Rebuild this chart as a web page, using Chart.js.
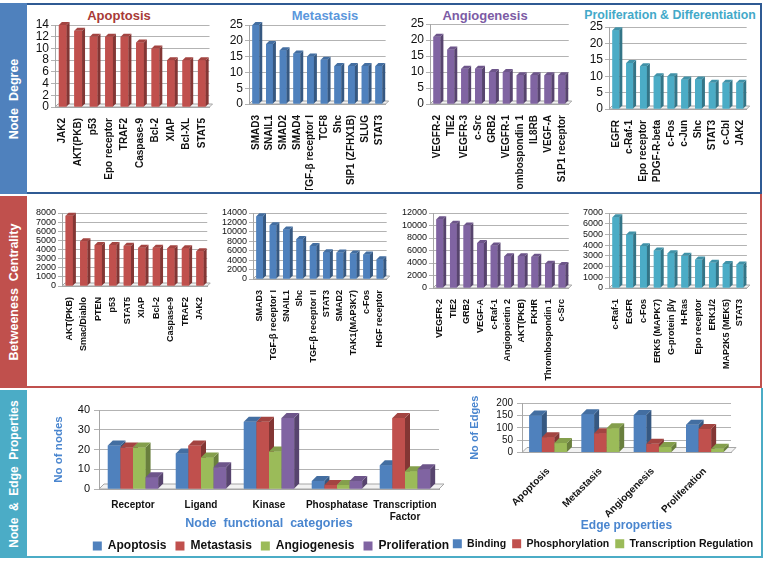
<!DOCTYPE html>
<html>
<head>
<meta charset="utf-8">
<script src="https://cdn.jsdelivr.net/npm/chart.js@4.4.0/dist/chart.umd.min.js"></script>
<style>
body { margin:0; width:766px; height:561px; background:#fff; position:relative; overflow:hidden; font-family:"Liberation Sans", Arial, sans-serif; }
.band { position:absolute; left:0; width:27px; }
.band span { position:absolute; left:50%; top:50%; transform:translate(-50%,-50%) rotate(-90deg); white-space:pre; color:#fff; font-weight:bold; font-size:12.5px; }
.frame { position:absolute; box-sizing:border-box; border:2px solid; border-left:none; }
.ttl { position:absolute; transform:translate(-50%,-50%); white-space:nowrap; font-weight:bold; font-size:13px; }
canvas { position:absolute; }
</style>
</head>
<body>
<div class="frame" style="left:27px;top:3px;width:735px;height:191px;border-color:#2f5a93"></div>
<div class="band" style="top:3px;height:191px;background:#4f81bd"><span>Node  Degree</span></div>
<div class="frame" style="left:27px;top:194px;width:735px;height:194px;border-color:#c0504d;border-top:none"></div>
<div class="band" style="top:196px;height:192px;background:#c0504d"><span>Betweeness  Centrality</span></div>
<div class="frame" style="left:27px;top:388px;width:736px;height:170px;border-color:#4bacc6;border-top:none"></div>
<div class="band" style="top:390px;height:168px;background:#4bacc6"><span style="font-size:12px">Node  &amp;  Edge  Properties</span></div>

<div class="ttl" style="left:119px;top:15px;color:#a83a37">Apoptosis</div>
<div class="ttl" style="left:325px;top:15px;color:#5b97dc">Metastasis</div>
<div class="ttl" style="left:485px;top:15px;color:#7c5ba5">Angiogenesis</div>
<div class="ttl" style="left:670px;top:15px;color:#43a9c9;font-size:12.3px">Proliferation &amp; Differentiation</div>

<script>
// node degree (top row)
const degApopLabels = ["JAK2", "AKT(PKB)", "p53", "Epo receptor", "TRAF2", "Caspase-9", "Bcl-2", "XIAP", "Bcl-XL", "STAT5"];
const degApopValues = [14, 13, 12, 12, 12, 11, 10, 8, 8, 8];
const degMetaLabels = ["SMAD3", "SNAIL1", "SMAD2", "SMAD4", "TGF-β receptor I", "TCF8", "Shc", "SIP1 (ZFHX1B)", "SLUG", "STAT3"];
const degMetaValues = [25, 19, 17, 16, 15, 14, 12, 12, 12, 12];
const degAngioLabels = ["VEGFR-2", "TIE2", "VEGFR-3", "c-Src", "GRB2", "VEGFR-1", "Thrombospondin 1", "IL8RB", "VEGF-A", "S1P1 receptor"];
const degAngioValues = [21, 17, 11, 11, 10, 10, 9, 9, 9, 9];
const degProlLabels = ["EGFR", "c-Raf-1", "Epo receptor", "PDGF-R-beta", "c-Fos", "c-Jun", "Shc", "STAT3", "c-Cbl", "JAK2"];
const degProlValues = [24, 14, 13, 10, 10, 9, 9, 8, 8, 8];

// betweeness centrality (middle row)
const btwApopLabels = ["AKT(PKB)", "Smac/Diablo", "PTEN", "p53", "STAT5", "XIAP", "Bcl-2", "Caspase-9", "TRAF2", "JAK2"];
const btwApopValues = [7700, 4900, 4500, 4500, 4400, 4200, 4200, 4150, 4150, 3800];
const btwMetaLabels = ["SMAD3", "TGF-β receptor I", "SNAIL1", "Shc", "TGF-β receptor II", "STAT3", "SMAD2", "TAK1(MAP3K7)", "c-Fos", "HGF receptor"];
const btwMetaValues = [13300, 11400, 10500, 8500, 7000, 5700, 5600, 5400, 5200, 4200];
const btwAngioLabels = ["VEGFR-2", "TIE2", "GRB2", "VEGF-A", "c-Raf-1", "Angiopoietin 2", "AKT(PKB)", "FKHR", "Thrombospondin 1", "c-Src"];
const btwAngioValues = [11000, 10300, 10000, 7200, 6800, 5100, 5100, 5000, 3900, 3700];
const btwProlLabels = ["c-Raf-1", "EGFR", "c-Fos", "ERK5 (MAPK7)", "G-protein β/γ", "H-Ras", "Epo receptor", "ERK1/2", "MAP2K5 (MEK5)", "STAT3"];
const btwProlValues = [6600, 5000, 3900, 3500, 3250, 3000, 2650, 2350, 2250, 2200];

// node functional categories (bottom left)
const nodeCategories = ["Receptor", "Ligand", "Kinase", "Phosphatase", ["Transcription", "Factor"]];
const nodeSeries = ["Apoptosis", "Metastasis", "Angiogenesis", "Proliferation"];
const nodeApop = [22, 18, 34, 4, 12];
const nodeMeta = [21, 22, 34, 2, 36];
const nodeAngio = [21, 16, 19, 2, 9];
const nodeProl = [6, 11, 36, 4, 10];

// edge properties (bottom right)
const edgeCategories = ["Apoptosis", "Metastasis", "Angiogenesis", "Proliferation"];
const edgeSeries = ["Binding", "Phosphorylation", "Transcription Regulation"];
const edgeBinding = [150, 155, 152, 112];
const edgePhospho = [62, 78, 35, 95];
const edgeTranscr = [38, 98, 22, 15];

const RED = '#c0504d', BLUE = '#4f81bd', PURPLE = '#8064a2', TEAL = '#4bacc6', GREEN = '#9bbb59';
const AXIS_BLUE = '#4a86cf';

function shade(hex, f) {
    const n = parseInt(hex.slice(1), 16);
    const r = Math.round(((n >> 16) & 255) * f), g = Math.round(((n >> 8) & 255) * f), b = Math.round((n & 255) * f);
    return `rgb(${r},${g},${b})`;
}

// pseudo 3D: floor under the bars, then every bar redrawn left to right with side and top faces
const bar3d = {
    id: 'bar3d',
    beforeDatasetsDraw(chart, args, opts) {
        const a = chart.chartArea, d = opts.depth, c = chart.ctx;
        c.save();
        c.fillStyle = '#f2f2f2';
        c.strokeStyle = '#a6a6a6';
        c.lineWidth = 1;
        c.beginPath();
        c.moveTo(a.left, a.bottom);
        c.lineTo(a.left + d, a.bottom - d);
        c.lineTo(a.right + d, a.bottom - d);
        c.lineTo(a.right, a.bottom);
        c.closePath();
        c.fill();
        c.stroke();
        c.restore();
    },
    afterDatasetsDraw(chart, args, opts) {
        const d = opts.depth, c = chart.ctx;
        const n = chart.data.labels.length;
        c.save();
        for (let i = 0; i < n; i++) {
            chart.data.datasets.forEach((ds, k) => {
                const el = chart.getDatasetMeta(k).data[i];
                const p = el.getProps(['x', 'y', 'base', 'width'], true);
                const l = p.x - p.width / 2, r = p.x + p.width / 2;
                const col = ds.backgroundColor;
                c.fillStyle = col;
                c.fillRect(l, p.y, p.width, p.base - p.y);
                c.fillStyle = shade(col, 0.68);
                c.beginPath();
                c.moveTo(r, p.y); c.lineTo(r + d, p.y - d); c.lineTo(r + d, p.base - d); c.lineTo(r, p.base);
                c.closePath(); c.fill();
                c.fillStyle = shade(col, 0.85);
                c.beginPath();
                c.moveTo(l, p.y); c.lineTo(l + d, p.y - d); c.lineTo(r + d, p.y - d); c.lineTo(r, p.y);
                c.closePath(); c.fill();
            });
        }
        c.restore();
    }
};

function addCanvas(x, y, w, h) {
    const cv = document.createElement('canvas');
    cv.width = w; cv.height = h;
    cv.style.left = x + 'px'; cv.style.top = y + 'px';
    document.body.appendChild(cv);
    return cv;
}

const plain = v => String(v);

// ranked single series panel (top and middle rows)
function rankChart(box, labels, values, color, o) {
    const cv = addCanvas(box[0], box[1], box[2], box[3]);
    return new Chart(cv, {
        type: 'bar',
        data: { labels: labels, datasets: [{ data: values, backgroundColor: color, borderWidth: 0, barPercentage: 0.5, categoryPercentage: 1 }] },
        options: {
            responsive: false,
            animation: false,
            layout: { padding: { top: o.padTop, right: 4, bottom: 0, left: 0 } },
            plugins: { legend: { display: false }, tooltip: { enabled: false }, bar3d: { depth: 3 } },
            scales: {
                x: {
                    grid: { display: false },
                    border: { color: '#a6a6a6' },
                    ticks: { minRotation: 90, maxRotation: 90, autoSkip: false, color: '#111', padding: 3, font: { size: o.labelSize, weight: 'bold' } },
                    afterFit: s => { s.height = o.xH; }
                },
                y: {
                    min: 0, max: o.max,
                    ticks: { stepSize: o.step, autoSkip: false, callback: plain, color: '#111', padding: 2, font: { size: o.tickSize } },
                    grid: { color: '#b3b3b3', tickLength: 4 },
                    border: { color: '#a6a6a6' },
                    afterFit: s => { s.width = o.yW; }
                }
            }
        },
        plugins: [bar3d]
    });
}

rankChart([28, 5, 189, 185], degApopLabels, degApopValues, RED, { padTop: 20, xH: 83, yW: 27, max: 14, step: 2, tickSize: 12, labelSize: 10 });
rankChart([212, 5, 182, 185], degMetaLabels, degMetaValues, BLUE, { padTop: 20, xH: 86, yW: 37, max: 25, step: 5, tickSize: 12, labelSize: 10 });
rankChart([394, 5, 183, 185], degAngioLabels, degAngioValues, PURPLE, { padTop: 19, xH: 86, yW: 36, max: 25, step: 5, tickSize: 12, labelSize: 10 });
rankChart([577, 5, 178, 185], degProlLabels, degProlValues, TEAL, { padTop: 22, xH: 81, yW: 32, max: 25, step: 5, tickSize: 12, labelSize: 10 });

rankChart([28, 197, 186, 190], btwApopLabels, btwApopValues, RED, { padTop: 16, xH: 101, yW: 34, max: 8000, step: 1000, tickSize: 9, labelSize: 9 });
rankChart([214, 197, 180, 190], btwMetaLabels, btwMetaValues, BLUE, { padTop: 16, xH: 108, yW: 39, max: 14000, step: 2000, tickSize: 9, labelSize: 9 });
rankChart([394, 197, 182, 190], btwAngioLabels, btwAngioValues, PURPLE, { padTop: 16, xH: 99, yW: 39, max: 12000, step: 2000, tickSize: 9, labelSize: 9 });
rankChart([576, 197, 178, 190], btwProlLabels, btwProlValues, TEAL, { padTop: 16, xH: 99, yW: 33, max: 7000, step: 1000, tickSize: 9, labelSize: 9 });

// grouped panels (bottom row); an empty right axis keeps room for the 3D depth without shrinking the legend
function groupChart(box, labels, names, series, colors, o) {
    const cv = addCanvas(box[0], box[1], box[2], box[3]);
    const datasets = series.map((vals, i) => ({
        label: names[i], data: vals, backgroundColor: colors[i], borderWidth: 0,
        barPercentage: 1, categoryPercentage: o.catPct
    }));
    return new Chart(cv, {
        type: 'bar',
        data: { labels: labels, datasets: datasets },
        options: {
            responsive: false,
            animation: false,
            layout: { padding: { top: o.padTop, right: 0, bottom: 0, left: 0 } },
            plugins: {
                tooltip: { enabled: false },
                bar3d: { depth: 5 },
                legend: {
                    position: 'bottom',
                    labels: { color: '#111', boxWidth: 9, boxHeight: 9, padding: o.legPad, font: { size: o.legSize, weight: 'bold' } }
                }
            },
            scales: {
                x: {
                    grid: { display: false },
                    border: { color: '#a6a6a6' },
                    ticks: { minRotation: o.rot, maxRotation: o.rot, autoSkip: false, color: '#111', padding: o.tickPad, font: { size: 10, weight: 'bold' } },
                    title: { display: true, text: o.xTitle, color: AXIS_BLUE, padding: { top: 0, bottom: 0 }, font: { size: o.xTitleSize, weight: 'bold' } },
                    afterFit: s => { s.height = o.xH; }
                },
                y: {
                    min: 0, max: o.max,
                    ticks: { stepSize: o.step, autoSkip: false, callback: plain, color: '#111', padding: 4, font: { size: o.tickSize } },
                    grid: { color: '#b3b3b3', tickLength: 5 },
                    border: { color: '#a6a6a6' },
                    title: { display: true, text: o.yTitle, color: AXIS_BLUE, padding: { top: o.yTitlePad, bottom: 0 }, font: { size: o.yTitleSize, weight: 'bold' } },
                    afterFit: s => { s.width = o.yW; }
                },
                gap: {
                    type: 'linear', position: 'right', display: true,
                    grid: { display: false }, ticks: { display: false }, border: { display: false },
                    afterFit: s => { s.width = o.gapRight; }
                }
            }
        },
        plugins: [bar3d]
    });
}

groupChart([52, 396, 438, 166], nodeCategories, nodeSeries, [nodeApop, nodeMeta, nodeAngio, nodeProl], [BLUE, RED, GREEN, PURPLE],
    { catPct: 0.74, padTop: 14, gapRight: 51, xH: 42, yW: 47, max: 40, step: 10, tickSize: 11, rot: 0, tickPad: 2,
      xTitle: 'Node  functional  categories', xTitleSize: 12.5, yTitle: 'No of nodes', yTitleSize: 11.5, yTitlePad: 0, legPad: 9, legSize: 12 });
groupChart([440, 393, 326, 166], edgeCategories, edgeSeries, [edgeBinding, edgePhospho, edgeTranscr], [BLUE, RED, GREEN],
    { catPct: 0.72, padTop: 7, gapRight: 35, xH: 80, yW: 82, max: 200, step: 50, tickSize: 10, rot: 45, tickPad: 5,
      xTitle: 'Edge properties', xTitleSize: 12, yTitle: 'No of Edges', yTitleSize: 11, yTitlePad: 28, legPad: 6, legSize: 10.5 });
</script>
</body>
</html>
